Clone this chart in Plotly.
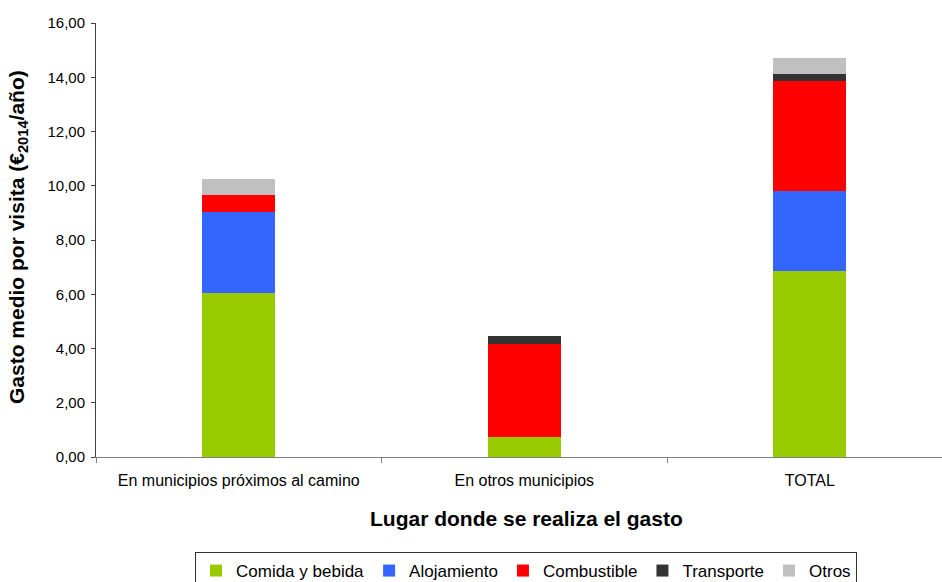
import plotly.graph_objects as go

# Lugar donde se realiza el gasto
categorias = ["En municipios próximos al camino", "En otros municipios", "TOTAL"]

# Gasto medio por visita (€2014/año), por concepto
comida_bebida = [6.03, 0.75, 6.84]
alojamiento = [3.01, 0.00, 2.97]
combustible = [0.63, 3.43, 4.06]
transporte = [0.00, 0.29, 0.25]
otros = [0.59, 0.00, 0.59]

y_ticks = [0, 2, 4, 6, 8, 10, 12, 14, 16]

series = [
    ("Comida y bebida", comida_bebida, "#99CC00"),
    ("Alojamiento", alojamiento, "#3366FF"),
    ("Combustible", combustible, "#FF0000"),
    ("Transporte", transporte, "#333333"),
    ("Otros", otros, "#C0C0C0"),
]

FONT = "Liberation Sans, Arial, sans-serif"

fig = go.Figure()
for nombre, valores, color in series:
    fig.add_trace(go.Bar(
        name=nombre,
        x=categorias,
        y=valores,
        width=0.256,
        marker=dict(color=color, line=dict(width=0)),
    ))

W, H = 942, 582
ML, MR, MT, MB = 96, 0, 23, 125
plot_w = W - ML - MR
plot_h = H - MT - MB


def px_x(p):
    return (p - ML) / plot_w


def px_y(p):
    return (H - MB - p) / plot_h


fig.update_layout(
    width=W,
    height=H,
    margin=dict(l=ML, r=MR, t=MT, b=MB, pad=0, autoexpand=False),
    barmode="stack",
    paper_bgcolor="white",
    plot_bgcolor="white",
    separators=",.",
    font=dict(family=FONT, color="black"),
    showlegend=True,
    legend=dict(
        orientation="h",
        x=px_x(526),
        xanchor="center",
        y=px_y(552),
        yanchor="top",
        bordercolor="#333333",
        borderwidth=1,
        bgcolor="white",
        font=dict(family=FONT, size=17, color="black"),
        traceorder="normal",
        itemwidth=30,
    ),
    xaxis=dict(
        type="category",
        range=[-0.5, 2.463],
        showline=True,
        linecolor="#808080",
        linewidth=1,
        ticks="outside",
        tickson="boundaries",
        ticklen=5,
        tickcolor="#808080",
        showgrid=False,
        automargin=False,
        ticklabelstandoff=9,
        tickfont=dict(family=FONT, size=16, color="black"),
        fixedrange=True,
    ),
    yaxis=dict(
        range=[0, 16],
        tickvals=y_ticks,
        tickformat=".2f",
        showline=True,
        linecolor="#404040",
        linewidth=1,
        ticks="outside",
        ticklen=4,
        tickcolor="#404040",
        showgrid=False,
        zeroline=False,
        automargin=False,
        ticklabelstandoff=3,
        tickfont=dict(family=FONT, size=15, color="black"),
        fixedrange=True,
    ),
    annotations=[
        dict(
            text="<b>Lugar donde se realiza el gasto</b>",
            xref="paper", yref="paper",
            x=px_x(526), y=px_y(518),
            xanchor="center", yanchor="middle",
            showarrow=False,
            font=dict(family=FONT, size=21, color="black"),
        ),
        dict(
            text="<b>Gasto medio por visita (€<sub>2014</sub>/año)</b>",
            xref="paper", yref="paper",
            x=px_x(18), y=px_y(237),
            xanchor="center", yanchor="middle",
            textangle=-90,
            showarrow=False,
            font=dict(family=FONT, size=21, color="black"),
        ),
    ],
)

fig.write_html("out.html")
